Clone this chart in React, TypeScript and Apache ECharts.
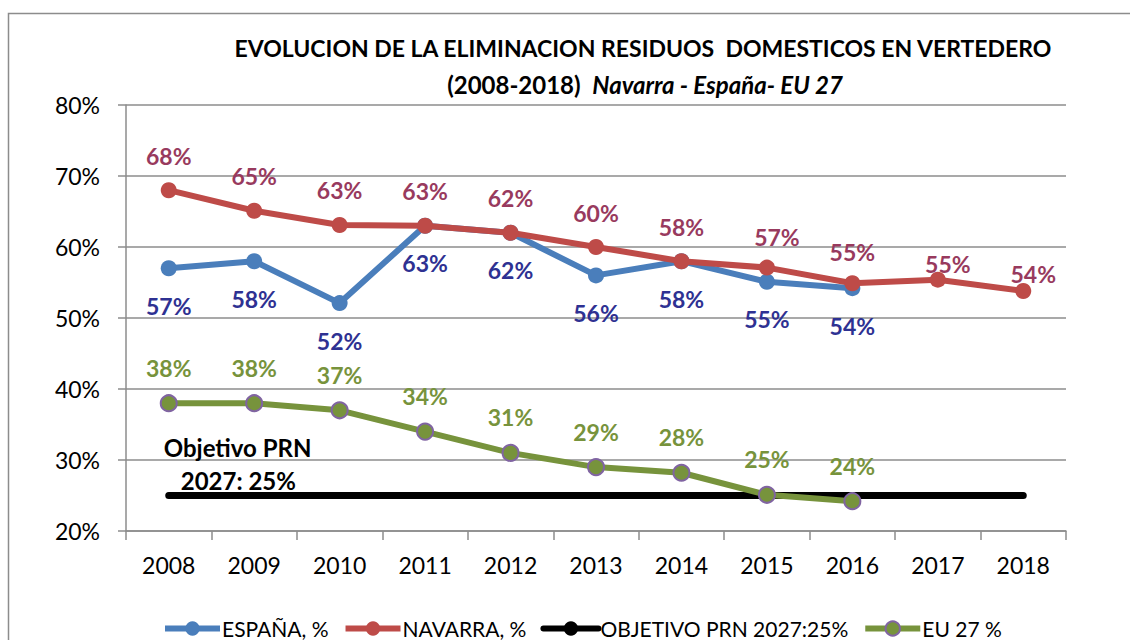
import React, { useEffect, useRef } from "react";
import * as echarts from "echarts";

const years = ["2008", "2009", "2010", "2011", "2012", "2013", "2014", "2015", "2016", "2017", "2018"];
const espana = [57, 58, 52.1, 63, 62, 56, 58, 55.1, 54.2, null, null];
const navarra = [68, 65.1, 63.1, 63, 62, 60, 58, 57.1, 54.9, 55.4, 53.8];
const objetivo = [25, 25, 25, 25, 25, 25, 25, 25, 25, 25, 25];
const eu27 = [38, 38, 37, 34, 31, 29, 28.2, 25.1, 24.2, null, null];
const yTicks = { min: 20, max: 80, interval: 10 };

const seriesNames = ["ESPAÑA, %", "NAVARRA, %", "OBJETIVO PRN 2027:25%", "EU 27 %"];
const titleLine1 = "EVOLUCION DE LA ELIMINACION RESIDUOS  DOMESTICOS EN VERTEDERO";
const titleLine2a = "(2008-2018)  ";
const titleLine2b = "Navarra - España- EU 27";
const objetivoText = ["Objetivo PRN", "2027: 25%"];

// label nudges for Navarra (style only)
const navarraLabelNudge: Record<number, [number, number]> = {
  7: [10, 4],
  8: [0, 3],
  9: [10, 19],
  10: [10, 17],
};

const FONT = "Lato, 'Open Sans', sans-serif";
const fmt = (p: any) => Math.round(p.value) + "%";

export default function App() {
  const ref = useRef<HTMLDivElement>(null);
  useEffect(() => {
    if (!ref.current) return;
    const chart = echarts.init(ref.current, undefined, { renderer: "svg" });
    const labelBase = { show: true, fontFamily: FONT, fontSize: 23, fontWeight: "bold" as const, formatter: fmt };

    const navarraData = navarra.map((v, i) =>
      navarraLabelNudge[i] ? { value: v, label: { offset: navarraLabelNudge[i] } } : v
    );
    const objetivoData = objetivo.map((v, i) =>
      i === 0
        ? {
            value: v,
            label: {
              show: true,
              position: "top",
              align: "left",
              distance: 0,
              offset: [-5, 2],
              formatter: "{a|" + objetivoText[0] + "}\n{b|" + objetivoText[1] + "}",
              rich: {
                a: { fontFamily: FONT, fontSize: 24, fontWeight: "bold", color: "#000", lineHeight: 33 },
                b: { fontFamily: FONT, fontSize: 24, fontWeight: "bold", color: "#000", lineHeight: 33, padding: [0, 0, 0, 17] },
              },
            },
          }
        : v
    );

    chart.setOption({
      animation: false,
      backgroundColor: "#ffffff",
      graphic: [
        {
          type: "rect",
          shape: { x: 8.5, y: 13.5, width: 1300, height: 800 },
          style: { fill: "none", stroke: "#8c8c8c", lineWidth: 1.5 },
          silent: true,
          z: -10,
        },
        {
          type: "text",
          x: 643,
          y: 48,
          style: {
            text: titleLine1,
            fontFamily: FONT,
            fontSize: 23,
            fontWeight: "bold",
            fill: "#000",
            align: "center",
            verticalAlign: "middle",
          },
        },
        {
          type: "text",
          x: 645,
          y: 84,
          style: {
            text: "{a|" + titleLine2a + "}{b|" + titleLine2b + "}",
            align: "center",
            verticalAlign: "middle",
            rich: {
              a: { fontFamily: FONT, fontSize: 24, fontWeight: "bold", fill: "#000", color: "#000" },
              b: { fontFamily: FONT, fontSize: 24, fontWeight: "bold", fontStyle: "italic", fill: "#000", color: "#000" },
            },
          },
        },
      ],
      grid: { left: 126, right: 64, top: 105, bottom: 109 },
      legend: {
        left: 157,
        top: 613,
        itemWidth: 55,
        itemHeight: 18,
        itemGap: 14,
        lineStyle: { width: 6 },
        textStyle: { fontFamily: FONT, fontSize: 21, color: "#000", padding: [0, 0, 0, -3] },
        data: seriesNames,
      },
      xAxis: {
        type: "category",
        data: years,
        boundaryGap: true,
        axisLine: { lineStyle: { color: "#8c8c8c", width: 1.5 } },
        axisTick: { show: true, length: 9, lineStyle: { color: "#8c8c8c", width: 1.5 } },
        axisLabel: { fontFamily: FONT, fontSize: 23, color: "#000", margin: 22 },
      },
      yAxis: {
        type: "value",
        min: yTicks.min,
        max: yTicks.max,
        interval: yTicks.interval,
        axisLine: { show: true, lineStyle: { color: "#8c8c8c", width: 1.5 } },
        axisTick: { show: true, length: 8, lineStyle: { color: "#8c8c8c", width: 1.5 } },
        axisLabel: { fontFamily: FONT, fontSize: 23, color: "#000", margin: 26, formatter: "{value}%" },
        splitLine: { lineStyle: { color: "#8c8c8c", width: 1.5 } },
      },
      series: [
        {
          name: seriesNames[0],
          type: "line",
          data: espana,
          symbol: "circle",
          symbolSize: 16,
          lineStyle: { color: "#4a7ebb", width: 6 },
          itemStyle: { color: "#4a7ebb" },
          label: { ...labelBase, position: "bottom", distance: 18, color: "#2e3192" },
          z: 2,
        },
        {
          name: seriesNames[1],
          type: "line",
          data: navarraData,
          symbol: "circle",
          symbolSize: 16,
          lineStyle: { color: "#be4b48", width: 6 },
          itemStyle: { color: "#be4b48" },
          label: { ...labelBase, position: "top", distance: 15, color: "#983a5e" },
          z: 3,
        },
        {
          name: seriesNames[2],
          type: "line",
          data: objetivoData,
          symbol: "circle",
          symbolSize: 1,
          lineStyle: { color: "#000000", width: 7, cap: "round" },
          itemStyle: { color: "#000000" },
          z: 4,
        },
        {
          name: seriesNames[3],
          type: "line",
          data: eu27,
          symbol: "circle",
          symbolSize: 16,
          lineStyle: { color: "#77933c", width: 6 },
          itemStyle: { color: "#77933c", borderColor: "#8064a2", borderWidth: 2 },
          label: { ...labelBase, position: "top", distance: 15, color: "#77933c" },
          z: 5,
        },
      ],
    });
    return () => chart.dispose();
  }, []);
  return (
    <div
      ref={ref}
      style={{ position: "absolute", left: 0, top: 0, width: 1130, height: 640 }}
    />
  );
}
